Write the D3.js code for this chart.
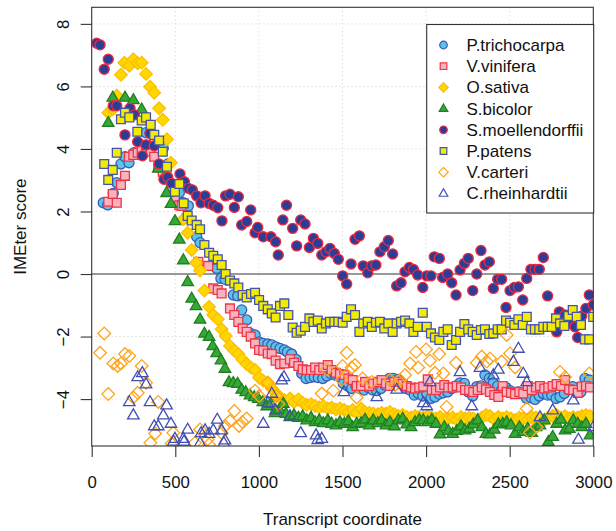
<!DOCTYPE html>
<html>
<head>
<meta charset="utf-8">
<script src="https://cdn.jsdelivr.net/npm/d3@7"></script>
<style>
  body { margin: 0; background: #fff; }
  svg { display: block; }
  text { font-family: "Liberation Sans", Arial, Helvetica, sans-serif; fill: #111; }
</style>
</head>
<body>
<div id="plot"></div>
<script>
// Tick values
const xTicks = [0, 500, 1000, 1500, 2000, 2500, 3000];
const yTicks = [-4, -2, 0, 2, 4, 6, 8];
const xGrid = [500, 1000, 1500, 2000, 2500];
const yGrid = [-4, -2, 2, 4, 6, 8];

// Series values, [transcript coordinate, IMEter score]
const pTrichocarpa = [[69,2.28],[96,2.21],[129,2.58],[150,2.92],[175,3.52],[199,3.75],[223,3.56],[253,3.88],[325,4.52],[349,4.5],[428,4.02],[455,3.52],[524,2.6],[548,2.28],[578,2.18],[628,1.19],[648,1.0],[747,0.18],[773,-0.14],[797,-0.17],[847,-0.67],[873,-0.7],[897,-1.15],[927,-1.47],[951,-1.9],[977,-1.95],[1001,-2.17],[1026,-2.22],[1053,-2.24],[1077,-2.27],[1102,-2.33],[1126,-2.38],[1152,-2.43],[1170,-2.49],[1196,-2.56],[1222,-2.73],[1256,-3.18],[1282,-3.34],[1306,-3.31],[1331,-3.29],[1355,-3.31],[1382,-3.34],[1406,-3.26],[1431,-3.2],[1455,-3.23],[1481,-3.29],[1505,-3.5],[1531,-3.58],[1555,-3.66],[1581,-3.58],[1605,-3.66],[1630,-3.71],[1654,-3.63],[1681,-3.71],[1705,-3.73],[1730,-3.66],[1754,-3.55],[1780,-3.34],[1804,-3.34],[1830,-3.37],[1854,-3.5],[1880,-3.66],[1904,-3.71],[1929,-3.87],[1953,-3.82],[1980,-3.9],[2004,-3.82],[2029,-3.98],[2053,-3.93],[2079,-3.84],[2103,-3.8],[2129,-3.77],[2153,-3.66],[2179,-3.58],[2203,-3.48],[2229,-3.5],[2252,-3.77],[2279,-3.9],[2303,-3.6],[2328,-3.58],[2352,-3.23],[2378,-3.34],[2402,-3.48],[2428,-3.58],[2452,-3.71],[2478,-3.63],[2502,-3.73],[2528,-3.8],[2552,-3.77],[2578,-3.84],[2602,-3.98],[2627,-3.95],[2651,-4.01],[2677,-3.9],[2701,-3.82],[2727,-3.87],[2751,-3.87],[2777,-3.98],[2801,-3.93],[2827,-3.82],[2851,-3.69],[2877,-3.6],[2901,-3.8],[2926,-3.77],[2950,-3.34],[2976,-3.39]];

const vVinifera = [[99,2.31],[126,2.56],[150,2.28],[175,2.85],[199,3.14],[223,3.75],[249,3.81],[275,3.88],[299,3.95],[325,4.13],[353,3.91],[374,3.75],[398,3.41],[425,3.27],[448,3.09],[474,2.71],[498,2.37],[524,2.2],[538,2.18],[568,1.78],[638,0.39],[697,0.26],[727,-0.46],[754,-0.51],[777,-0.62],[827,-1.1],[853,-1.31],[877,-1.53],[903,-1.74],[927,-1.85],[951,-2.0],[977,-2.22],[1001,-2.43],[1026,-2.45],[1053,-2.54],[1077,-2.56],[1100,-2.77],[1126,-2.88],[1152,-2.86],[1186,-2.73],[1210,-2.84],[1236,-2.94],[1262,-3.05],[1286,-3.07],[1312,-3.07],[1336,-2.99],[1361,-3.07],[1385,-2.99],[1412,-2.91],[1435,-3.07],[1461,-3.16],[1485,-3.2],[1511,-3.23],[1535,-3.34],[1561,-3.39],[1585,-3.58],[1611,-3.58],[1635,-3.45],[1660,-3.58],[1684,-3.5],[1711,-3.45],[1734,-3.39],[1760,-3.5],[1784,-3.58],[1810,-3.45],[1834,-3.45],[1860,-3.52],[1884,-3.58],[1910,-3.63],[1934,-3.66],[1959,-3.63],[1983,-3.6],[2010,-3.37],[2034,-3.71],[2059,-3.71],[2083,-3.63],[2109,-3.55],[2133,-3.63],[2159,-3.63],[2183,-3.58],[2209,-3.63],[2233,-3.71],[2258,-3.71],[2282,-3.77],[2309,-3.71],[2333,-3.63],[2358,-3.69],[2382,-3.77],[2408,-3.87],[2432,-3.93],[2458,-3.58],[2482,-3.77],[2508,-3.8],[2532,-3.84],[2558,-3.77],[2581,-3.82],[2608,-3.58],[2632,-3.71],[2657,-3.63],[2681,-3.58],[2707,-3.66],[2731,-3.63],[2757,-3.58],[2781,-3.52],[2807,-3.58],[2831,-3.39],[2856,-3.69],[2880,-3.71],[2907,-3.8],[2931,-3.6],[2956,-3.58],[2980,-3.63]];

const oSativa = [[99,5.16],[126,5.27],[150,5.7],[175,6.37],[195,6.76],[225,6.66],[249,6.87],[275,6.74],[299,6.76],[325,6.4],[349,5.99],[374,5.8],[403,5.3],[425,4.93],[450,4.31],[474,3.56],[548,1.75],[574,1.32],[598,0.77],[624,0.36],[648,0.11],[674,-0.53],[702,-1.05],[727,-1.31],[754,-1.45],[777,-1.77],[801,-1.98],[827,-2.3],[853,-2.45],[877,-2.56],[901,-2.73],[927,-2.88],[953,-2.99],[977,-3.07],[1001,-3.31],[1026,-3.41],[1053,-3.48],[1077,-3.66],[1100,-3.8],[1126,-3.95],[1152,-4.03],[1186,-3.98],[1210,-4.09],[1236,-4.01],[1262,-4.12],[1286,-4.19],[1312,-4.16],[1336,-4.22],[1361,-4.27],[1385,-4.22],[1412,-4.3],[1435,-4.27],[1461,-4.33],[1485,-4.3],[1511,-4.35],[1535,-4.41],[1561,-4.35],[1585,-4.44],[1611,-4.3],[1635,-4.41],[1660,-4.44],[1684,-4.46],[1711,-4.48],[1734,-4.44],[1760,-4.46],[1784,-4.41],[1810,-4.48],[1834,-4.54],[1860,-4.51],[1884,-4.57],[1910,-4.59],[1934,-4.54],[1959,-4.57],[1983,-4.59],[2010,-4.54],[2034,-4.59],[2059,-4.62],[2083,-4.57],[2109,-4.65],[2133,-4.62],[2159,-4.59],[2183,-4.65],[2209,-4.57],[2233,-4.62],[2258,-4.59],[2282,-4.62],[2309,-4.65],[2333,-4.59],[2358,-4.51],[2382,-4.54],[2408,-4.65],[2432,-4.57],[2458,-4.62],[2482,-4.57],[2508,-4.62],[2532,-4.67],[2558,-4.59],[2581,-4.62],[2608,-4.65],[2632,-4.57],[2657,-4.59],[2681,-4.62],[2707,-4.67],[2731,-4.59],[2757,-4.54],[2781,-4.51],[2807,-4.59],[2831,-4.54],[2856,-4.62],[2880,-4.57],[2907,-4.59],[2931,-4.54],[2956,-4.51],[2980,-4.54]];

const sBicolor = [[99,4.84],[126,5.65],[199,5.65],[249,5.57],[299,5.27],[398,3.38],[448,2.6],[474,2.25],[498,1.7],[524,1.11],[548,0.45],[574,-0.25],[598,-0.78],[624,-1.02],[648,-1.45],[674,-1.9],[702,-2.0],[724,-2.3],[747,-2.52],[773,-2.75],[797,-3.02],[821,-3.45],[847,-3.48],[873,-3.5],[897,-3.69],[921,-3.77],[947,-3.87],[972,-3.93],[996,-3.98],[1023,-4.09],[1047,-4.22],[1072,-4.14],[1096,-4.44],[1122,-4.33],[1146,-4.14],[1162,-4.46],[1186,-4.57],[1210,-4.51],[1236,-4.59],[1262,-4.54],[1286,-4.67],[1312,-4.59],[1336,-4.73],[1361,-4.67],[1385,-4.76],[1412,-4.67],[1435,-4.78],[1461,-4.83],[1485,-4.73],[1511,-4.78],[1535,-4.7],[1561,-4.89],[1585,-4.78],[1611,-4.76],[1635,-4.65],[1660,-4.83],[1684,-4.67],[1711,-4.76],[1734,-4.67],[1760,-4.83],[1784,-4.73],[1810,-4.86],[1834,-4.67],[1860,-4.62],[1884,-4.8],[1910,-4.89],[1934,-4.73],[1959,-4.65],[1983,-4.67],[2010,-4.73],[2034,-4.65],[2059,-4.78],[2083,-5.12],[2109,-4.89],[2133,-5.01],[2159,-5.1],[2183,-5.01],[2209,-4.86],[2233,-4.99],[2258,-4.94],[2282,-4.8],[2309,-4.67],[2333,-4.89],[2358,-5.1],[2382,-5.12],[2408,-4.97],[2432,-4.8],[2458,-4.78],[2482,-4.73],[2508,-4.83],[2532,-5.1],[2558,-4.89],[2581,-5.04],[2608,-4.94],[2632,-5.07],[2657,-4.89],[2681,-4.83],[2707,-4.67],[2731,-5.36],[2757,-5.2],[2781,-4.78],[2807,-4.65],[2831,-4.99],[2856,-4.94],[2880,-4.67],[2907,-4.78],[2931,-4.89],[2956,-4.78],[2980,-5.15]];

const sMoellendorffii = [[30,7.38],[50,7.33],[75,6.55],[99,6.87],[129,5.38],[150,5.38],[199,4.45],[229,5.3],[255,5.09],[275,4.23],[303,3.78],[325,4.13],[349,4.5],[374,4.1],[403,3.52],[432,3.03],[455,3.09],[478,2.9],[528,3.2],[554,2.95],[578,2.74],[602,2.69],[628,2.5],[654,2.28],[678,2.5],[702,2.26],[727,2.2],[754,2.12],[779,1.7],[801,2.5],[827,2.55],[853,2.13],[877,2.47],[897,1.57],[927,1.68],[951,2.05],[977,1.32],[993,1.49],[1026,1.19],[1072,1.19],[1100,1.03],[1116,0.61],[1143,1.73],[1165,2.2],[1202,1.46],[1226,0.9],[1250,1.73],[1276,1.6],[1302,0.85],[1326,1.14],[1352,0.98],[1376,0.61],[1401,0.71],[1425,0.82],[1451,0.66],[1475,0.47],[1501,-0.06],[1525,-0.32],[1551,0.32],[1575,1.11],[1601,1.22],[1624,0.26],[1651,0.04],[1675,0.26],[1700,0.29],[1724,0.71],[1750,0.87],[1774,1.07],[1800,0.64],[1824,-0.38],[1850,-0.28],[1874,0.07],[1900,0.21],[1924,0.15],[1950,-0.03],[1980,-0.43],[2004,-0.06],[2029,-0.06],[2049,0.55],[2079,0.5],[2099,-0.11],[2129,0.0],[2153,-0.28],[2179,-0.67],[2203,0.13],[2229,0.34],[2252,0.5],[2279,-0.53],[2303,0.0],[2328,0.75],[2352,0.29],[2378,0.39],[2402,-0.46],[2428,-0.17],[2452,-0.17],[2478,-1.07],[2502,-0.53],[2528,-0.43],[2552,-0.41],[2578,-0.83],[2602,-0.14],[2627,0.15],[2651,0.15],[2677,0.15],[2701,0.53],[2727,-0.7],[2781,-1.85],[2797,-1.21],[2831,-1.31],[2861,-1.58],[2891,-1.69],[2907,-2.03],[2931,-1.34],[2956,-1.1],[2976,-0.67],[3000,-0.99]];

const pPatens = [[75,3.52],[99,3.01],[126,3.33],[150,3.88],[175,4.95],[199,5.16],[225,5.01],[273,4.55],[299,4.91],[325,5.01],[353,4.77],[374,4.45],[403,4.27],[425,3.91],[450,3.43],[498,2.63],[524,2.88],[550,2.26],[574,1.86],[598,1.71],[628,1.57],[648,1.43],[674,0.93],[702,0.68],[727,0.58],[754,0.47],[777,0.29],[801,0.0],[827,-0.21],[853,-0.3],[877,-0.43],[903,-0.67],[927,-0.75],[953,-0.64],[977,-0.6],[1001,-0.83],[1026,-1.02],[1053,-1.13],[1077,-1.26],[1100,-1.39],[1126,-1.02],[1152,-0.94],[1176,-1.31],[1202,-1.71],[1226,-1.88],[1250,-1.81],[1276,-1.69],[1302,-1.42],[1326,-1.53],[1352,-1.49],[1376,-1.74],[1401,-1.58],[1425,-1.53],[1451,-1.53],[1475,-1.53],[1501,-1.56],[1525,-1.37],[1551,-1.13],[1575,-1.31],[1601,-1.85],[1624,-1.58],[1651,-1.53],[1675,-1.69],[1700,-1.56],[1724,-1.53],[1750,-1.74],[1774,-1.58],[1800,-1.85],[1824,-1.58],[1850,-1.53],[1874,-1.49],[1900,-1.58],[1924,-1.85],[1950,-1.69],[1980,-1.24],[2004,-1.69],[2029,-1.9],[2053,-2.03],[2079,-2.11],[2103,-1.85],[2129,-1.77],[2153,-2.27],[2179,-2.11],[2203,-1.85],[2229,-1.6],[2252,-1.77],[2279,-1.85],[2303,-1.95],[2328,-1.79],[2352,-1.77],[2378,-1.92],[2402,-1.9],[2428,-1.77],[2452,-1.77],[2478,-1.49],[2502,-1.56],[2528,-1.63],[2552,-1.45],[2578,-1.63],[2602,-1.37],[2627,-1.77],[2651,-1.77],[2677,-1.77],[2701,-1.69],[2727,-1.69],[2751,-1.69],[2777,-1.42],[2801,-1.58],[2827,-1.66],[2851,-1.34],[2877,-1.15],[2901,-1.37],[2926,-1.63],[2950,-2.09],[2976,-2.09],[3000,-1.37]];

const vCarteri = [[50,-2.52],[75,-1.9],[99,-3.84],[129,-2.86],[155,-2.94],[175,-2.86],[199,-2.56],[225,-2.62],[249,-3.95],[275,-3.8],[299,-2.94],[325,-3.48],[351,-5.4],[379,-5.1],[398,-4.09],[478,-5.42],[488,-5.08],[617,-5.4],[648,-4.97],[694,-5.29],[702,-5.45],[777,-5.08],[797,-4.86],[827,-4.7],[853,-4.38],[881,-4.86],[901,-4.73],[927,-4.62],[977,-3.73],[1001,-3.9],[1053,-3.48],[1106,-3.9],[1116,-4.16],[1376,-3.82],[1406,-3.05],[1445,-3.73],[1495,-3.39],[1501,-2.94],[1525,-2.52],[1555,-2.99],[1575,-2.91],[1585,-3.95],[1621,-3.34],[1675,-3.45],[1784,-3.39],[1814,-3.55],[1844,-3.39],[1874,-3.23],[1904,-2.86],[1940,-2.49],[1953,-2.99],[2000,-2.41],[2023,-2.77],[2053,-3.16],[2079,-2.56],[2103,-3.18],[2123,-4.25],[2179,-2.84],[2303,-2.84],[2333,-2.64],[2363,-2.8],[2382,-2.7],[2452,-2.8],[2482,-1.95],[2502,-2.54],[2532,-2.99],[2602,-4.3],[2621,-5.07],[2661,-4.89],[2801,-3.13],[2831,-3.29],[2976,-3.18]];

const cRheinhardtii = [[225,-4.09],[249,-4.51],[275,-3.29],[303,-3.16],[325,-3.52],[349,-4.09],[374,-4.86],[398,-4.86],[428,-4.51],[448,-4.19],[474,-4.78],[489,-5.35],[498,-5.26],[548,-5.26],[552,-5.35],[574,-4.97],[648,-5.4],[654,-5.08],[678,-4.99],[702,-5.1],[727,-4.99],[751,-4.65],[777,-4.99],[790,-5.4],[797,-5.31],[1026,-4.78],[1053,-4.12],[1077,-3.82],[1100,-4.35],[1136,-3.39],[1150,-3.29],[1186,-4.54],[1250,-5.08],[1342,-5.15],[1352,-5.3],[1376,-5.26],[1509,-3.77],[1705,-3.93],[1824,-3.69],[1983,-4.12],[2004,-4.22],[2023,-3.45],[2203,-3.13],[2273,-4.22],[2322,-2.99],[2402,-3.23],[2432,-3.05],[2522,-2.8],[2552,-2.38],[2581,-3.18],[2602,-3.45],[2681,-4.57],[2757,-4.35],[2880,-4.03],[2911,-5.29],[3000,-4.89]];

// Species in drawing / legend order
const speciesNames = ["P.trichocarpa", "V.vinifera", "O.sativa", "S.bicolor", "S.moellendorffii", "P.patens", "V.carteri", "C.rheinhardtii"];
const speciesData = [pTrichocarpa, vVinifera, oSativa, sBicolor, sMoellendorffii, pPatens, vCarteri, cRheinhardtii];
const speciesShape = ["circle", "square", "diamond", "triangle", "circle", "square", "diamond", "triangle"];
const speciesFill = ["#5cc4e6", "#f9b3be", "#ffd700", "#35a835", "#2c3d98", "#f3ec00", "none", "none"];
const speciesStroke = ["#3b5cb8", "#ee3546", "#ffbd00", "#1f7f22", "#ee2a3c", "#4454ac", "#ffa31a", "#4050b2"];

// Set the dimensions and margins
const margin = {top: 7.3, right: 22.7, bottom: 85, left: 91.7};
const width = 616 - margin.left - margin.right;
const height = 531 - margin.top - margin.bottom;

const svg = d3.select("#plot")
    .append("svg")
    .attr("width", 616)
    .attr("height", 531);

const g = svg.append("g")
    .attr("transform", `translate(${margin.left},${margin.top})`);

const x = d3.scaleLinear().domain([0, 3000]).range([0, width]);
const y = d3.scaleLinear().domain([-5.5, 8.53]).range([height, 0]);

// Marker paths
function shapePath(shape, k) {
    if (shape === "circle") return d3.symbol(d3.symbolCircle, 80 * k * k)();
    if (shape === "square") return d3.symbol(d3.symbolSquare, 78 * k * k)();
    if (shape === "diamond") {
        const r = 6.3 * k;
        return `M0,${-r}L${r},0L0,${r}L${-r},0Z`;
    }
    const s = 11.5 * k, h = s * 0.866;
    return `M0,${-h * 0.62}L${s / 2},${h * 0.38}L${-s / 2},${h * 0.38}Z`;
}

// Grid
g.selectAll(".gx").data(xGrid).enter().append("line")
    .attr("x1", d => x(d)).attr("x2", d => x(d))
    .attr("y1", 0).attr("y2", height)
    .attr("stroke", "#cfcfcf").attr("stroke-dasharray", "1,3");
g.selectAll(".gy").data(yGrid).enter().append("line")
    .attr("x1", 0).attr("x2", width)
    .attr("y1", d => y(d)).attr("y2", d => y(d))
    .attr("stroke", "#cfcfcf").attr("stroke-dasharray", "1,3");

// Zero line
g.append("line")
    .attr("x1", 0).attr("x2", width)
    .attr("y1", y(0)).attr("y2", y(0))
    .attr("stroke", "#333").attr("stroke-width", 1.1);

// Points, clipped to the plot region
svg.append("clipPath").attr("id", "clip")
    .append("rect").attr("width", width).attr("height", height);

const pts = g.append("g").attr("clip-path", "url(#clip)");
speciesData.forEach((data, i) => {
    pts.append("g").selectAll("path")
        .data(data)
        .enter().append("path")
        .attr("d", shapePath(speciesShape[i], 1))
        .attr("transform", d => `translate(${x(d[0])},${y(d[1])})`)
        .attr("fill", speciesFill[i])
        .attr("stroke", speciesStroke[i])
        .attr("stroke-width", 1.3);
});

// Box
g.append("rect")
    .attr("width", width).attr("height", height)
    .attr("fill", "none").attr("stroke", "#333").attr("stroke-width", 1.1);

// Axes
const xAxis = g.append("g")
    .attr("transform", `translate(0,${height})`)
    .call(d3.axisBottom(x).tickValues(xTicks).tickFormat(d3.format("d")).tickSize(11).tickSizeOuter(0));
xAxis.select(".domain").remove();
xAxis.selectAll("line").attr("stroke", "#333").attr("stroke-width", 1.1);
xAxis.selectAll("text")
    .attr("y", 30).attr("dy", "0.71em")
    .style("font-size", "16.8px").style("fill", "#111");

const yAxis = g.append("g")
    .call(d3.axisLeft(y).tickValues(yTicks).tickFormat(d3.format("d")).tickSize(11).tickSizeOuter(0));
yAxis.select(".domain").remove();
yAxis.selectAll("line").attr("stroke", "#333").attr("stroke-width", 1.1);
yAxis.selectAll("text")
    .attr("x", null).attr("dy", null)
    .attr("text-anchor", "middle")
    .attr("transform", "translate(-22.7,0) rotate(-90)")
    .style("font-size", "16.8px").style("fill", "#111");

// Axis titles
svg.append("text")
    .attr("x", margin.left + width / 2).attr("y", 525)
    .attr("text-anchor", "middle")
    .style("font-size", "17px")
    .text("Transcript coordinate");

svg.append("text")
    .attr("transform", `translate(26,${margin.top + height / 2}) rotate(-90)`)
    .attr("text-anchor", "middle")
    .style("font-size", "17px")
    .text("IMEter score");

// Legend
const legend = svg.append("g");
legend.append("rect")
    .attr("x", 426.7).attr("y", 24.5)
    .attr("width", 167).attr("height", 188.5)
    .attr("fill", "#fff").attr("stroke", "#333").attr("stroke-width", 1.1);

speciesNames.forEach((name, i) => {
    const cy = 45 + i * 21.2;
    legend.append("path")
        .attr("d", shapePath(speciesShape[i], 0.75))
        .attr("transform", `translate(443.5,${cy})`)
        .attr("fill", speciesFill[i])
        .attr("stroke", speciesStroke[i])
        .attr("stroke-width", 1.2);
    legend.append("text")
        .attr("x", 466.5).attr("y", cy + 6)
        .style("font-size", "17px")
        .text(name);
});
</script>
</body>
</html>
